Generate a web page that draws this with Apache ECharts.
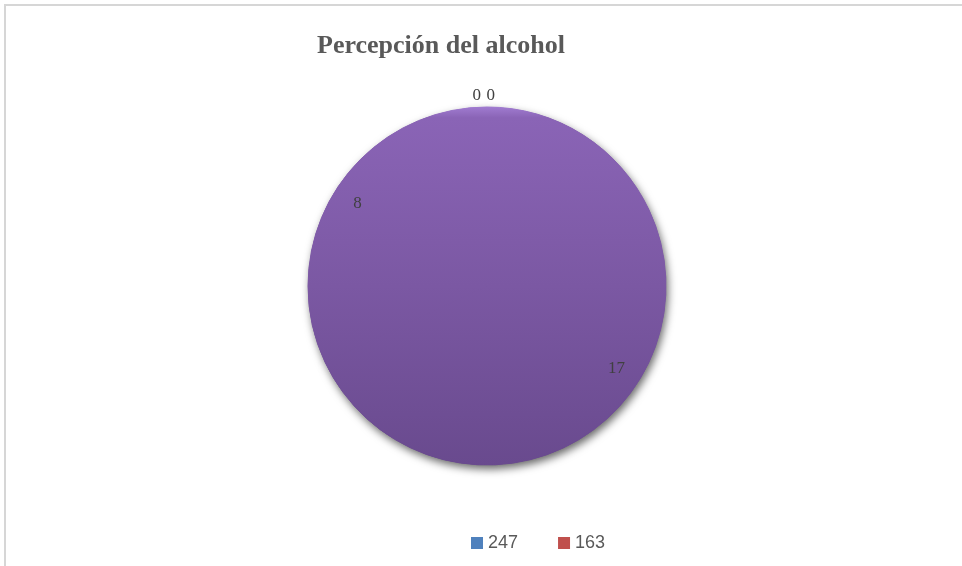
<!DOCTYPE html>
<html lang="es">
<head>
    <meta charset="UTF-8">
    <title>Percepción del alcohol</title>
    <script src="https://cdn.jsdelivr.net/npm/echarts@6/dist/echarts.min.js"></script>
    <style>
        html, body { margin: 0; padding: 0; background: #fff; }
        #frame {
            position: absolute; left: 4px; top: 4px; width: 958px; height: 562px;
            border-left: 2px solid #d6d6d6; border-top: 2px solid #d6d6d6;
        }
        #chart { position: absolute; left: 0; top: 0; width: 962px; height: 566px; }
    </style>
</head>
<body>
    <div id="frame"></div>
    <div id="chart"></div>

    <script>
        // datos
        var categorias = ['247', '163', 'c3', 'c4'];
        var valores = [0, 0, 8, 17];
        var leyenda = ['247', '163'];
        var colores = ['#4f81bd', '#c0504d', '#7b58a3', '#7b58a3'];

        var myChart = echarts.init(document.getElementById('chart'));

        var cx = 487, cy = 286, r = 179;

        // relleno morado con degradado vertical (todo el disco)
        var relleno = new echarts.graphic.LinearGradient(0, cy - r, 0, cy + r, [
            { offset: 0, color: '#a07bd0' },
            { offset: 0.03, color: '#8a64b6' },
            { offset: 0.5, color: '#7b58a3' },
            { offset: 1, color: '#694a8e' }
        ], true);

        function datosRelleno() {
            var d = [];
            for (var i = 0; i < categorias.length; i++) {
                d.push({
                    name: categorias[i],
                    value: valores[i],
                    itemStyle: {
                        color: valores[i] === 0 ? colores[i] : relleno,
                        borderColor: valores[i] === 0 ? colores[i] : relleno
                    }
                });
            }
            return d;
        }

        var datosEtiquetas = [];
        for (var i = 0; i < categorias.length; i++) {
            var item = { name: categorias[i], value: valores[i] };
            if (valores[i] === 0) {
                // los ceros quedan encima del disco
                item.label = { position: 'outside', offset: [i === 0 ? -1 : 13, 0] };
            }
            datosEtiquetas.push(item);
        }

        var base = {
            type: 'pie',
            center: [cx, cy],
            radius: [0, r],
            startAngle: 90,
            clockwise: false,
            silent: true,
            label: { show: false },
            labelLine: { show: false }
        };

        var option = {
            animation: false,
            title: {
                text: 'Percepción del alcohol',
                left: 312,
                top: 28,
                textStyle: {
                    fontFamily: 'Liberation Serif',
                    fontWeight: 'bold',
                    fontSize: 26,
                    color: '#595959'
                }
            },
            legend: {
                data: leyenda,
                left: 466,
                top: 529,
                itemWidth: 12,
                itemHeight: 12,
                itemGap: 40,
                icon: 'rect',
                textStyle: {
                    fontFamily: 'Liberation Sans',
                    fontSize: 18,
                    color: '#595959'
                }
            },
            series: [
                // sombra del disco
                Object.assign({}, base, {
                    itemStyle: {
                        borderWidth: 0,
                        shadowBlur: 8,
                        shadowOffsetX: 2,
                        shadowOffsetY: 4,
                        shadowColor: 'rgba(0,0,0,0.6)'
                    },
                    data: datosRelleno()
                }),
                // disco sin sombra por encima, tapa las juntas
                Object.assign({}, base, {
                    legendHoverLink: false,
                    itemStyle: { borderWidth: 1 },
                    data: datosRelleno()
                }),
                {
                    // anillo transparente solo para colocar las etiquetas
                    type: 'pie',
                    center: [cx, cy],
                    radius: [r * 0.68, r],
                    startAngle: 90,
                    clockwise: false,
                    silent: true,
                    avoidLabelOverlap: false,
                    legendHoverLink: false,
                    itemStyle: { color: 'rgba(0,0,0,0)', borderWidth: 0 },
                    label: {
                        show: true,
                        position: 'inside',
                        formatter: '{c}',
                        fontFamily: 'Liberation Serif',
                        fontSize: 17,
                        color: '#404040'
                    },
                    labelLine: { show: false, length: 11, length2: 0 },
                    data: datosEtiquetas
                }
            ]
        };

        myChart.setOption(option);
    </script>
</body>
</html>
